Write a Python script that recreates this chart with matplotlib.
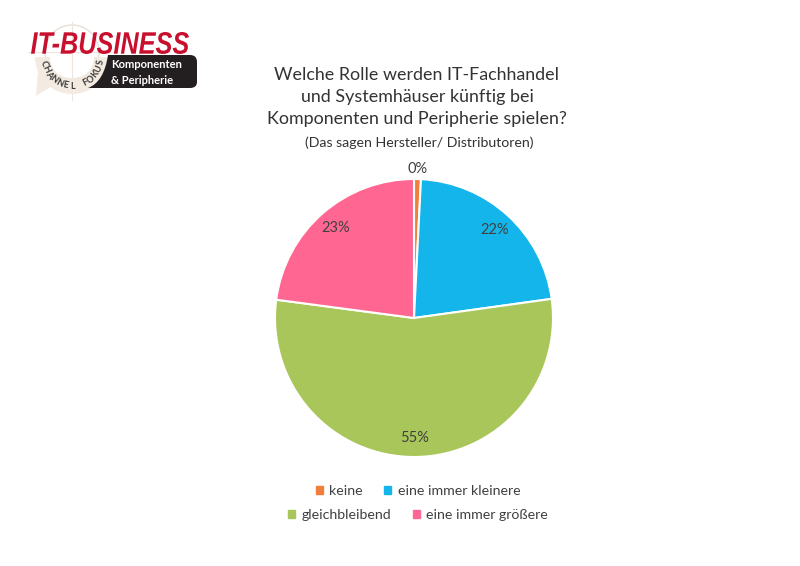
import matplotlib
matplotlib.use("Agg")
import matplotlib.pyplot as plt
import numpy as np
from matplotlib.textpath import TextPath
from matplotlib.font_manager import FontProperties
from matplotlib.patches import PathPatch, Circle, Wedge
from matplotlib.path import Path
from matplotlib.transforms import Affine2D
from matplotlib.legend import Legend

# Daten
kategorien = ["keine", "eine immer kleinere", "gleichbleibend", "eine immer größere"]
werte = [0.8, 22.0, 54.3, 22.9]
prozent_labels = ["0%", "22%", "55%", "23%"]
farben = ["#F07F3C", "#13B5EA", "#A9C65A", "#FF6792"]

titel = "Welche Rolle werden IT-Fachhandel\nund Systemhäuser künftig bei\nKomponenten und Peripherie spielen?"
untertitel = "(Das sagen Hersteller/ Distributoren)"

plt.rcParams['font.family'] = ['Lato', 'DejaVu Sans']
textfarbe = "#404040"

W, H = 800, 566
fig = plt.figure(figsize=(W / 100, H / 100), dpi=100)
fig.patch.set_facecolor("white")

# Hintergrund-Achse in Pixelkoordinaten (für Logo und Legende)
bg = fig.add_axes([0, 0, 1, 1])
bg.set_xlim(0, W)
bg.set_ylim(0, H)
bg.axis("off")

def py(y):
    return H - y

# Kreisdiagramm
cx, cy, r = 414, 318, 139
ax = fig.add_axes([(cx - r) / W, (H - cy - r) / H, 2 * r / W, 2 * r / H])
wedges, _ = ax.pie(werte, colors=farben, startangle=90, counterclock=False,
                   wedgeprops=dict(edgecolor="white", linewidth=1.5))
ax.set_xlim(-1, 1)
ax.set_ylim(-1, 1)

for w, lab in zip(wedges, prozent_labels):
    mitte = np.radians((w.theta1 + w.theta2) / 2)
    dist = 1.07 if (w.theta2 - w.theta1) < 5 else 0.86
    ax.text(dist * np.cos(mitte), dist * np.sin(mitte), lab, ha="center",
            va="center", fontsize=10.5, color=textfarbe)

# Titel
fig.text(417 / W, 1 - 97 / H, titel, ha="center", va="center", fontsize=12.9,
         color="#333333", linespacing=1.47)
fig.text(419 / W, 1 - 143 / H, untertitel, ha="center", va="center",
         fontsize=10.2, color="#333333")

# Legende: zwei zentrierte Zeilen
for zeile, ypos in [(0, 491), (1, 515)]:
    idx = [2 * zeile, 2 * zeile + 1]
    handles = [plt.Rectangle((0, 0), 1, 1, color=farben[i]) for i in idx]
    leg = Legend(bg, handles, [kategorien[i] for i in idx], ncol=2,
                 loc="center", bbox_to_anchor=(418 / W, 1 - ypos / H),
                 bbox_transform=fig.transFigure, frameon=False,
                 fontsize=10.2, handlelength=0.5, handleheight=0.5,
                 handletextpad=0.45, columnspacing=1.5, labelcolor=textfarbe)
    bg.add_artist(leg)

# Logo: Zielscheibe und Sprechblase im Hintergrund
bg.add_patch(Circle((72, py(52)), 27, fill=False, color="#E8DFD7", lw=1.0, zorder=0))
bg.plot([28, 118], [py(52), py(52)], color="#EEE6DE", lw=0.8, zorder=0)
bg.plot([72, 72], [py(22), py(100)], color="#EEE6DE", lw=0.8, zorder=0)
bg.add_patch(Wedge((72, py(57)), 37, 180, 360, width=15, fc="#F3EAE1", ec="none", zorder=1))
bg.add_patch(plt.Polygon([(38, py(72)), (36, py(96)), (52, py(86))], fc="#F3EAE1",
                         ec="none", zorder=1))

# Schriftzug IT-BUSINESS
fp = FontProperties(family="Liberation Sans", weight="bold", style="italic")
tp = TextPath((0, 0), "IT-BUSINESS", size=10, prop=fp)
ext = tp.get_extents()
sx = 158 / ext.width
sy = 22 / ext.height
trans = Affine2D().translate(-ext.x0, -ext.y0).scale(sx, sy).translate(31, py(54))
bg.add_patch(PathPatch(trans.transform_path(tp), color="#C8102E", lw=0, zorder=3))

# Schwarze Box mit gebogener linker Kante
verts = [(108, py(55)), (190, py(55)), (197, py(55)), (197, py(62)),
         (197, py(82)), (197, py(88)), (190, py(88)),
         (88, py(88)), (104, py(82)), (108, py(55))]
codes = [Path.MOVETO, Path.LINETO, Path.CURVE3, Path.CURVE3,
         Path.LINETO, Path.CURVE3, Path.CURVE3,
         Path.LINETO, Path.CURVE3, Path.CURVE3]
bg.add_patch(PathPatch(Path(verts, codes), fc="#231F20", ec="none", zorder=2))
bg.text(111, py(65), "Komponenten", color="white", fontsize=8, fontweight="bold",
        va="center", ha="left", zorder=4)
bg.text(111, py(80), "& Peripherie", color="white", fontsize=8, fontweight="bold",
        va="center", ha="left", zorder=4)

# "CHANNEL FOKUS" im Bogen
bogen = "CHANNEL FOKUS"
bx, by, br = 72, py(57), 29
winkel = np.linspace(192, 349, len(bogen))
for ch, a in zip(bogen, winkel):
    t = np.radians(a)
    bg.text(bx + br * np.cos(t), by + br * np.sin(t), ch, rotation=a + 90,
            ha="center", va="center", fontsize=6.5, fontweight="bold",
            color="#3A3A3A", zorder=4)

fig.savefig("out.png", dpi=100)
